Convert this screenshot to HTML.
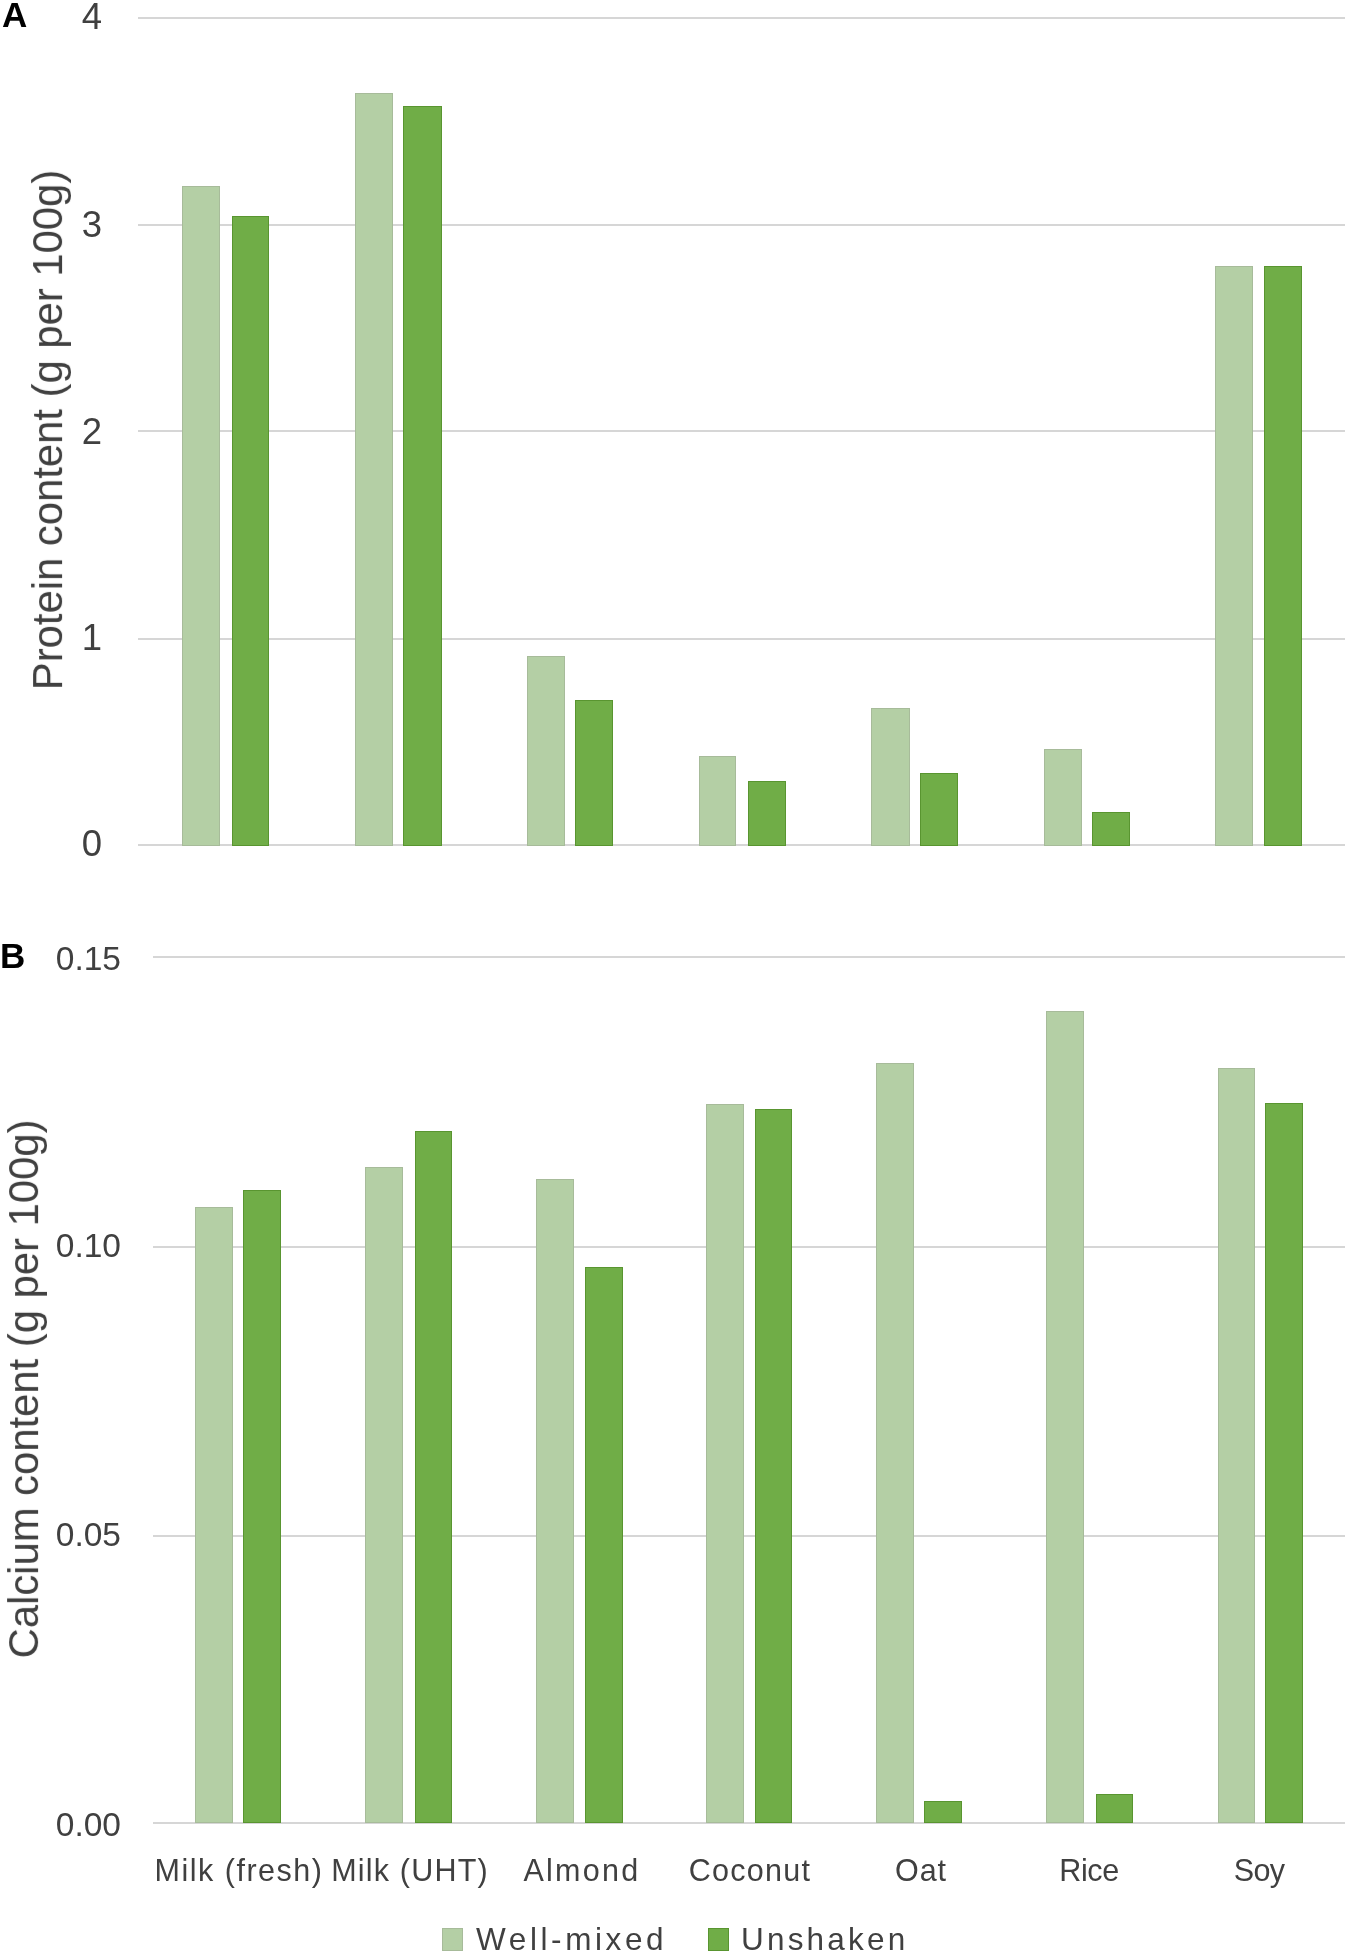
<!DOCTYPE html>
<html><head><meta charset="utf-8"><style>
html,body{margin:0;padding:0;background:#fff;}
body{width:1350px;height:1956px;overflow:hidden;position:relative;font-family:"Liberation Sans",sans-serif;color:#404040;}
.g{position:absolute;height:2px;background:#d6d6d6;}
.b{position:absolute;box-sizing:border-box;}
.l{background:#b4cfa5;border:1px solid #a7bb9a;}
.d{background:#70ad47;border:1px solid #599530;}
.t{position:absolute;white-space:nowrap;line-height:1;will-change:transform;}
.c{text-align:center;width:400px;}
.r{text-align:right;width:200px;}
</style></head><body>

<div class="g" style="left:138px;width:1207px;top:17.1px"></div>
<div class="g" style="left:138px;width:1207px;top:223.6px"></div>
<div class="g" style="left:138px;width:1207px;top:429.6px"></div>
<div class="g" style="left:138px;width:1207px;top:638px"></div>
<div class="g" style="left:138px;width:1207px;top:844.4px"></div>
<div class="g" style="left:153px;width:1192px;top:956.1px"></div>
<div class="g" style="left:153px;width:1192px;top:1246px"></div>
<div class="g" style="left:153px;width:1192px;top:1535.3px"></div>
<div class="g" style="left:153px;width:1192px;top:1822px"></div>
<div class="b l" style="left:181.6px;width:38px;top:185.6px;height:660px"></div>
<div class="b d" style="left:231.8px;width:37.6px;top:216px;height:629.6px"></div>
<div class="b l" style="left:355.1px;width:37.8px;top:92.7px;height:752.9px"></div>
<div class="b d" style="left:403.3px;width:38.5px;top:106px;height:739.6px"></div>
<div class="b l" style="left:526.9px;width:37.8px;top:655.8px;height:189.8px"></div>
<div class="b d" style="left:575.1px;width:37.8px;top:700.1px;height:145.5px"></div>
<div class="b l" style="left:698.5px;width:37.7px;top:756.3px;height:89.3px"></div>
<div class="b d" style="left:748.4px;width:38px;top:781.3px;height:64.3px"></div>
<div class="b l" style="left:870.6px;width:39.2px;top:708.3px;height:137.3px"></div>
<div class="b d" style="left:920.3px;width:37.8px;top:773.2px;height:72.4px"></div>
<div class="b l" style="left:1043.8px;width:37.8px;top:748.5px;height:97.1px"></div>
<div class="b d" style="left:1092px;width:37.7px;top:812.2px;height:33.4px"></div>
<div class="b l" style="left:1215.1px;width:38px;top:266.4px;height:579.2px"></div>
<div class="b d" style="left:1264px;width:37.8px;top:266.3px;height:579.3px"></div>
<div class="b l" style="left:195.3px;width:37.6px;top:1207.3px;height:615.7px"></div>
<div class="b d" style="left:243.1px;width:38px;top:1190.4px;height:632.6px"></div>
<div class="b l" style="left:365.3px;width:37.3px;top:1167.3px;height:655.7px"></div>
<div class="b d" style="left:415.2px;width:37.3px;top:1130.8px;height:692.2px"></div>
<div class="b l" style="left:536.4px;width:37.8px;top:1178.6px;height:644.4px"></div>
<div class="b d" style="left:584.9px;width:37.8px;top:1267px;height:556px"></div>
<div class="b l" style="left:706px;width:38px;top:1103.5px;height:719.5px"></div>
<div class="b d" style="left:754.7px;width:37.5px;top:1109.3px;height:713.7px"></div>
<div class="b l" style="left:876px;width:37.8px;top:1063.4px;height:759.6px"></div>
<div class="b d" style="left:924.2px;width:37.8px;top:1801.3px;height:21.7px"></div>
<div class="b l" style="left:1045.6px;width:38px;top:1011px;height:812px"></div>
<div class="b d" style="left:1095.8px;width:37.2px;top:1793.8px;height:29.2px"></div>
<div class="b l" style="left:1217.5px;width:37.6px;top:1068.3px;height:754.7px"></div>
<div class="b d" style="left:1265.2px;width:38.2px;top:1103.4px;height:719.6px"></div>
<div class="t r" style="font-size:36.5px;left:-97.7px;top:-1.1px">4</div>
<div class="t r" style="font-size:36.5px;left:-97.7px;top:207.2px">3</div>
<div class="t r" style="font-size:36.5px;left:-97.7px;top:413.5px">2</div>
<div class="t r" style="font-size:36.5px;left:-97.7px;top:620.1px">1</div>
<div class="t r" style="font-size:36.5px;left:-97.7px;top:826.2px">0</div>
<div class="t r" style="font-size:33.5px;left:-78.8px;top:941.9px">0.15</div>
<div class="t r" style="font-size:33.5px;left:-78.8px;top:1229.1px">0.10</div>
<div class="t r" style="font-size:33.5px;left:-78.8px;top:1518.3px">0.05</div>
<div class="t r" style="font-size:33.5px;left:-78.8px;top:1808.1px">0.00</div>
<div class="t" style="font-weight:bold;color:#000;font-size:35px;left:2px;top:-3.1px">A</div>
<div class="t" style="font-weight:bold;color:#000;font-size:35px;left:0.2px;top:938.2px">B</div>
<div class="t" style="font-size:41.8px;left:-352px;top:409px;width:800px;text-align:center;transform:rotate(-90deg);transform-origin:400px 20.9px">Protein content (g per 100g)</div>
<div class="t" style="font-size:41.8px;left:-376.5px;top:1368.2px;width:800px;text-align:center;transform:rotate(-90deg);transform-origin:400px 20.9px">Calcium content (g per 100g)</div>
<div class="t c" style="font-size:30.5px;left:38.6px;top:1855px;letter-spacing:1.5px">Milk (fresh)</div>
<div class="t c" style="font-size:30.5px;left:209.5px;top:1855px;letter-spacing:1.2px">Milk (UHT)</div>
<div class="t c" style="font-size:30.5px;left:381.6px;top:1855px;letter-spacing:2.3px">Almond</div>
<div class="t c" style="font-size:30.5px;left:550.3px;top:1855px;letter-spacing:1.3px">Coconut</div>
<div class="t c" style="font-size:30.5px;left:720.5px;top:1855px;letter-spacing:0.9px">Oat</div>
<div class="t c" style="font-size:30.5px;left:888.8px;top:1855px;letter-spacing:-0.4px">Rice</div>
<div class="t c" style="font-size:30.5px;left:1059.4px;top:1855px;letter-spacing:-0.7px">Soy</div>
<div class="b l" style="left:442px;top:1928px;width:21px;height:22.5px"></div>
<div class="t" style="font-size:31.5px;left:476px;top:1923.5px;letter-spacing:3.6px">Well-mixed</div>
<div class="b d" style="left:707.6px;top:1928px;width:21px;height:22.5px"></div>
<div class="t" style="font-size:31.5px;left:741.4px;top:1923.5px;letter-spacing:3.2px">Unshaken</div>
</body></html>
